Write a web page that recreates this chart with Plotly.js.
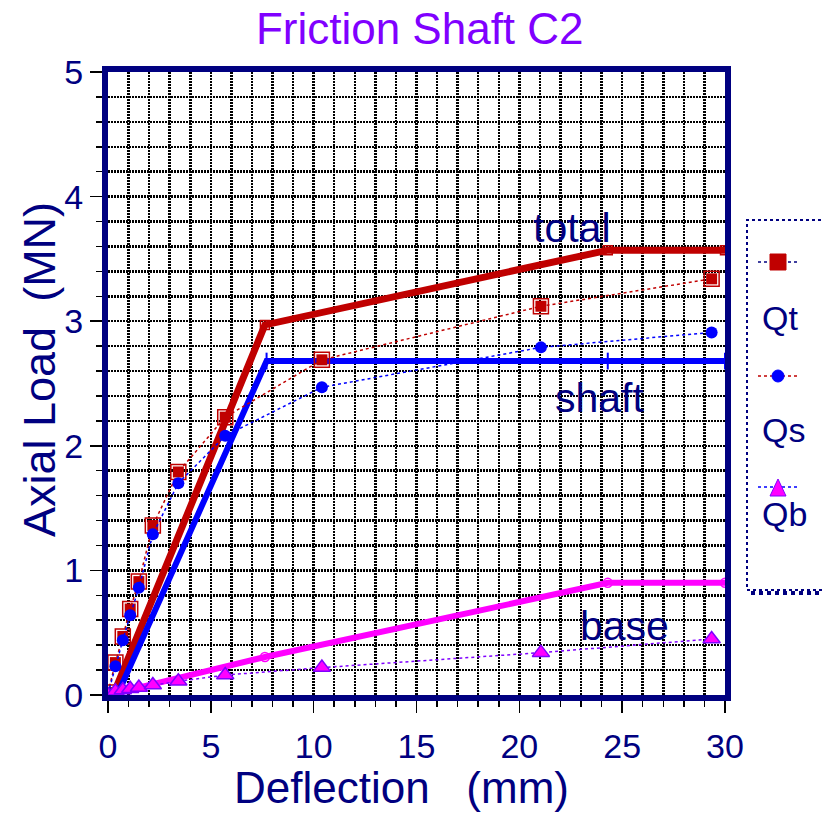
<!DOCTYPE html>
<html>
<head>
<meta charset="utf-8">
<script src="https://cdn.plot.ly/plotly-3.0.1.min.js"></script>
<style>html,body{margin:0;padding:0;background:#fff;}#chart{width:823px;height:814px;}</style>
</head>
<body>
<div id="chart"></div>
<script>
// Measured data (deflection in mm, loads in MN)
const deflection = [0, 0.36, 0.72, 1.08, 1.5, 2.18, 3.42, 5.7, 10.4, 21.05, 29.35];
const Qt = [0.02, 0.26, 0.47, 0.69, 0.91, 1.36, 1.79, 2.23, 2.69, 3.12, 3.34];
const Qs = [0.01, 0.23, 0.44, 0.64, 0.86, 1.29, 1.70, 2.08, 2.47, 2.79, 2.91];
const Qb = [0.0, 0.03, 0.04, 0.05, 0.06, 0.08, 0.11, 0.16, 0.22, 0.34, 0.45];

// Idealised (fitted) curves
const totalX = [0.25, 7.63, 24.3, 30];
const totalY = [0, 2.97, 3.57, 3.57];
const shaftX = [0.45, 7.71, 24.3, 30];
const shaftY = [0, 2.68, 2.68, 2.68];
const baseX = [0, 7.63, 24.3, 30];
const baseY = [0, 0.305, 0.9, 0.9];

const legendNames = ['Qt', 'Qs', 'Qb'];
const curveLabels = ['total', 'shaft', 'base'];
const xTickVals = [0, 5, 10, 15, 20, 25, 30];
const yTickVals = [0, 1, 2, 3, 4, 5];

const NAVY = '#000080';
const RED = '#c00000';
const BLUE = '#0000ff';
const MAGENTA = '#ff00ff';
const PURPLE = '#8000ff';
const FONT = 'Liberation Sans, Arial, sans-serif';
const GRIDDASH = '2px,1px';
const GRIDW = 2.5;

const traces = [
  {x: totalX, y: totalY, mode: 'lines+markers', line: {color: RED, width: 7},
   marker: {symbol: 'square-open', size: 9, color: RED, line: {width: 1.5}}, showlegend: false},
  {x: shaftX, y: shaftY, mode: 'lines+markers', line: {color: BLUE, width: 6},
   marker: {symbol: 'line-ns', size: 12, color: BLUE, line: {width: 2, color: BLUE}}, showlegend: false},
  {x: baseX, y: baseY, mode: 'lines+markers', line: {color: MAGENTA, width: 6},
   marker: {symbol: 'circle-open', size: 9, color: MAGENTA, line: {width: 1.5}}, showlegend: false},
  {x: deflection, y: Qt, name: legendNames[0], mode: 'lines+markers', line: {color: RED, width: 1.5, dash: 'dot'},
   marker: {symbol: 'square-open', size: 15, color: RED, line: {width: 1.5}}, showlegend: false},
  {x: deflection, y: Qt, mode: 'markers', hoverinfo: 'skip',
   marker: {symbol: 'square', size: 11, color: RED}, showlegend: false},
  {x: deflection, y: Qs, name: legendNames[1], mode: 'lines+markers', line: {color: BLUE, width: 1.5, dash: 'dot'},
   marker: {symbol: 'circle', size: 12, color: BLUE}, showlegend: false},
  {x: deflection, y: Qb, name: legendNames[2], mode: 'lines+markers', line: {color: PURPLE, width: 1.5, dash: 'dot'},
   marker: {symbol: 'triangle-up', size: 15, color: MAGENTA, line: {width: 1.5, color: PURPLE}}, showlegend: false}
];

// plot area in pixels
const L = 108, R = 725, T = 72, B = 695;
const px = v => (v - L) / (R - L);
const py = v => (B - v) / (B - T);

const shapes = [
  {type: 'rect', xref: 'paper', yref: 'paper', x0: px(747), x1: px(845), y0: py(590), y1: py(220),
   line: {color: NAVY, width: 2, dash: 'dot'}, fillcolor: 'rgba(0,0,0,0)'},
  {type: 'line', xref: 'paper', yref: 'paper', x0: px(751), x1: px(845), y0: py(593), y1: py(593),
   line: {color: NAVY, width: 4, dash: 'dot'}},
  // legend sample lines
  {type: 'line', xref: 'paper', yref: 'paper', x0: px(758), x1: px(797), y0: py(262), y1: py(262), line: {color: NAVY, width: 1.5, dash: 'dot'}},
  {type: 'rect', xref: 'paper', yref: 'paper', x0: px(770), x1: px(786), y0: py(270), y1: py(254), fillcolor: RED, line: {color: RED, width: 1}},
  {type: 'line', xref: 'paper', yref: 'paper', x0: px(758), x1: px(797), y0: py(376), y1: py(376), line: {color: RED, width: 1.5, dash: 'dot'}},
  {type: 'circle', xref: 'paper', yref: 'paper', x0: px(772), x1: px(784), y0: py(382), y1: py(370), fillcolor: BLUE, line: {color: BLUE, width: 1}},
  {type: 'line', xref: 'paper', yref: 'paper', x0: px(758), x1: px(797), y0: py(487), y1: py(487), line: {color: BLUE, width: 1.5, dash: 'dot'}},
  {type: 'path', xref: 'paper', yref: 'paper',
   path: `M ${px(770)} ${py(496)} L ${px(786)} ${py(496)} L ${px(778)} ${py(479)} Z`,
   fillcolor: MAGENTA, line: {color: PURPLE, width: 1}}
];

const annotations = [
  {x: 22.56, y: 3.75, xref: 'x', yref: 'y', text: curveLabels[0], showarrow: false, font: {family: FONT, size: 41, color: NAVY}},
  {x: 23.9, y: 2.38, xref: 'x', yref: 'y', text: curveLabels[1], showarrow: false, font: {family: FONT, size: 41, color: NAVY}},
  {x: 25.1, y: 0.55, xref: 'x', yref: 'y', text: curveLabels[2], showarrow: false, font: {family: FONT, size: 41, color: NAVY}},
  {x: px(760), y: py(318), xref: 'paper', yref: 'paper', xanchor: 'left', text: legendNames[0], showarrow: false, font: {family: FONT, size: 34, color: NAVY}},
  {x: px(760), y: py(430), xref: 'paper', yref: 'paper', xanchor: 'left', text: legendNames[1], showarrow: false, font: {family: FONT, size: 34, color: NAVY}},
  {x: px(760), y: py(535), xref: 'paper', yref: 'paper', xanchor: 'left', text: legendNames[2], showarrow: false, font: {family: FONT, size: 34, color: NAVY}},
  // axis titles
  {x: px(39), y: py(370), xref: 'paper', yref: 'paper', xanchor: 'center', yanchor: 'middle', textangle: -90,
   text: 'Axial Load\u00a0\u00a0(MN)', showarrow: false, font: {family: FONT, size: 45, color: NAVY}},
  {x: px(401), y: py(788), xref: 'paper', yref: 'paper', xanchor: 'center', yanchor: 'middle',
   text: 'Deflection\u00a0\u00a0\u00a0(mm)', showarrow: false, font: {family: FONT, size: 44, color: NAVY}}
];

const layout = {
  width: 823, height: 814,
  margin: {l: L, r: 823 - R, t: T, b: 814 - B},
  paper_bgcolor: '#fff', plot_bgcolor: '#fff',
  font: {family: FONT, color: NAVY},
  showlegend: false,
  title: {text: 'Friction Shaft C2', font: {family: FONT, size: 44, color: PURPLE},
          x: 0.51, xanchor: 'center', y: 0.965, yanchor: 'middle', yref: 'container'},
  xaxis: {
    range: [0, 30], tickvals: xTickVals, ticks: 'outside', ticklen: 12, tickwidth: 1.5, tickcolor: '#000',
    tickfont: {family: FONT, size: 34, color: NAVY}, ticklabelstandoff: 4,
    showline: true, linecolor: NAVY, linewidth: 6, mirror: true, zeroline: false,
    showgrid: true, gridcolor: '#000', gridwidth: GRIDW, griddash: GRIDDASH,
    minor: {dtick: 1, ticks: 'outside', ticklen: 6, tickcolor: '#000', tickwidth: 1.5, showgrid: true, gridcolor: '#000', gridwidth: GRIDW, griddash: GRIDDASH},
    fixedrange: true
  },
  yaxis: {
    range: [0, 5], tickvals: yTickVals, ticks: 'outside', ticklen: 12, tickwidth: 1.5, tickcolor: '#000',
    tickfont: {family: FONT, size: 34, color: NAVY}, ticklabelstandoff: 0,
    showline: true, linecolor: NAVY, linewidth: 6, mirror: true, zeroline: false,
    showgrid: true, gridcolor: '#000', gridwidth: GRIDW, griddash: GRIDDASH,
    minor: {dtick: 0.2, ticks: 'outside', ticklen: 6, tickcolor: '#000', tickwidth: 1.5, showgrid: true, gridcolor: '#000', gridwidth: GRIDW, griddash: GRIDDASH},
    fixedrange: true
  },
  shapes: shapes,
  annotations: annotations
};

Plotly.newPlot('chart', traces, layout, {displayModeBar: false, staticPlot: true});
</script>
</body>
</html>
